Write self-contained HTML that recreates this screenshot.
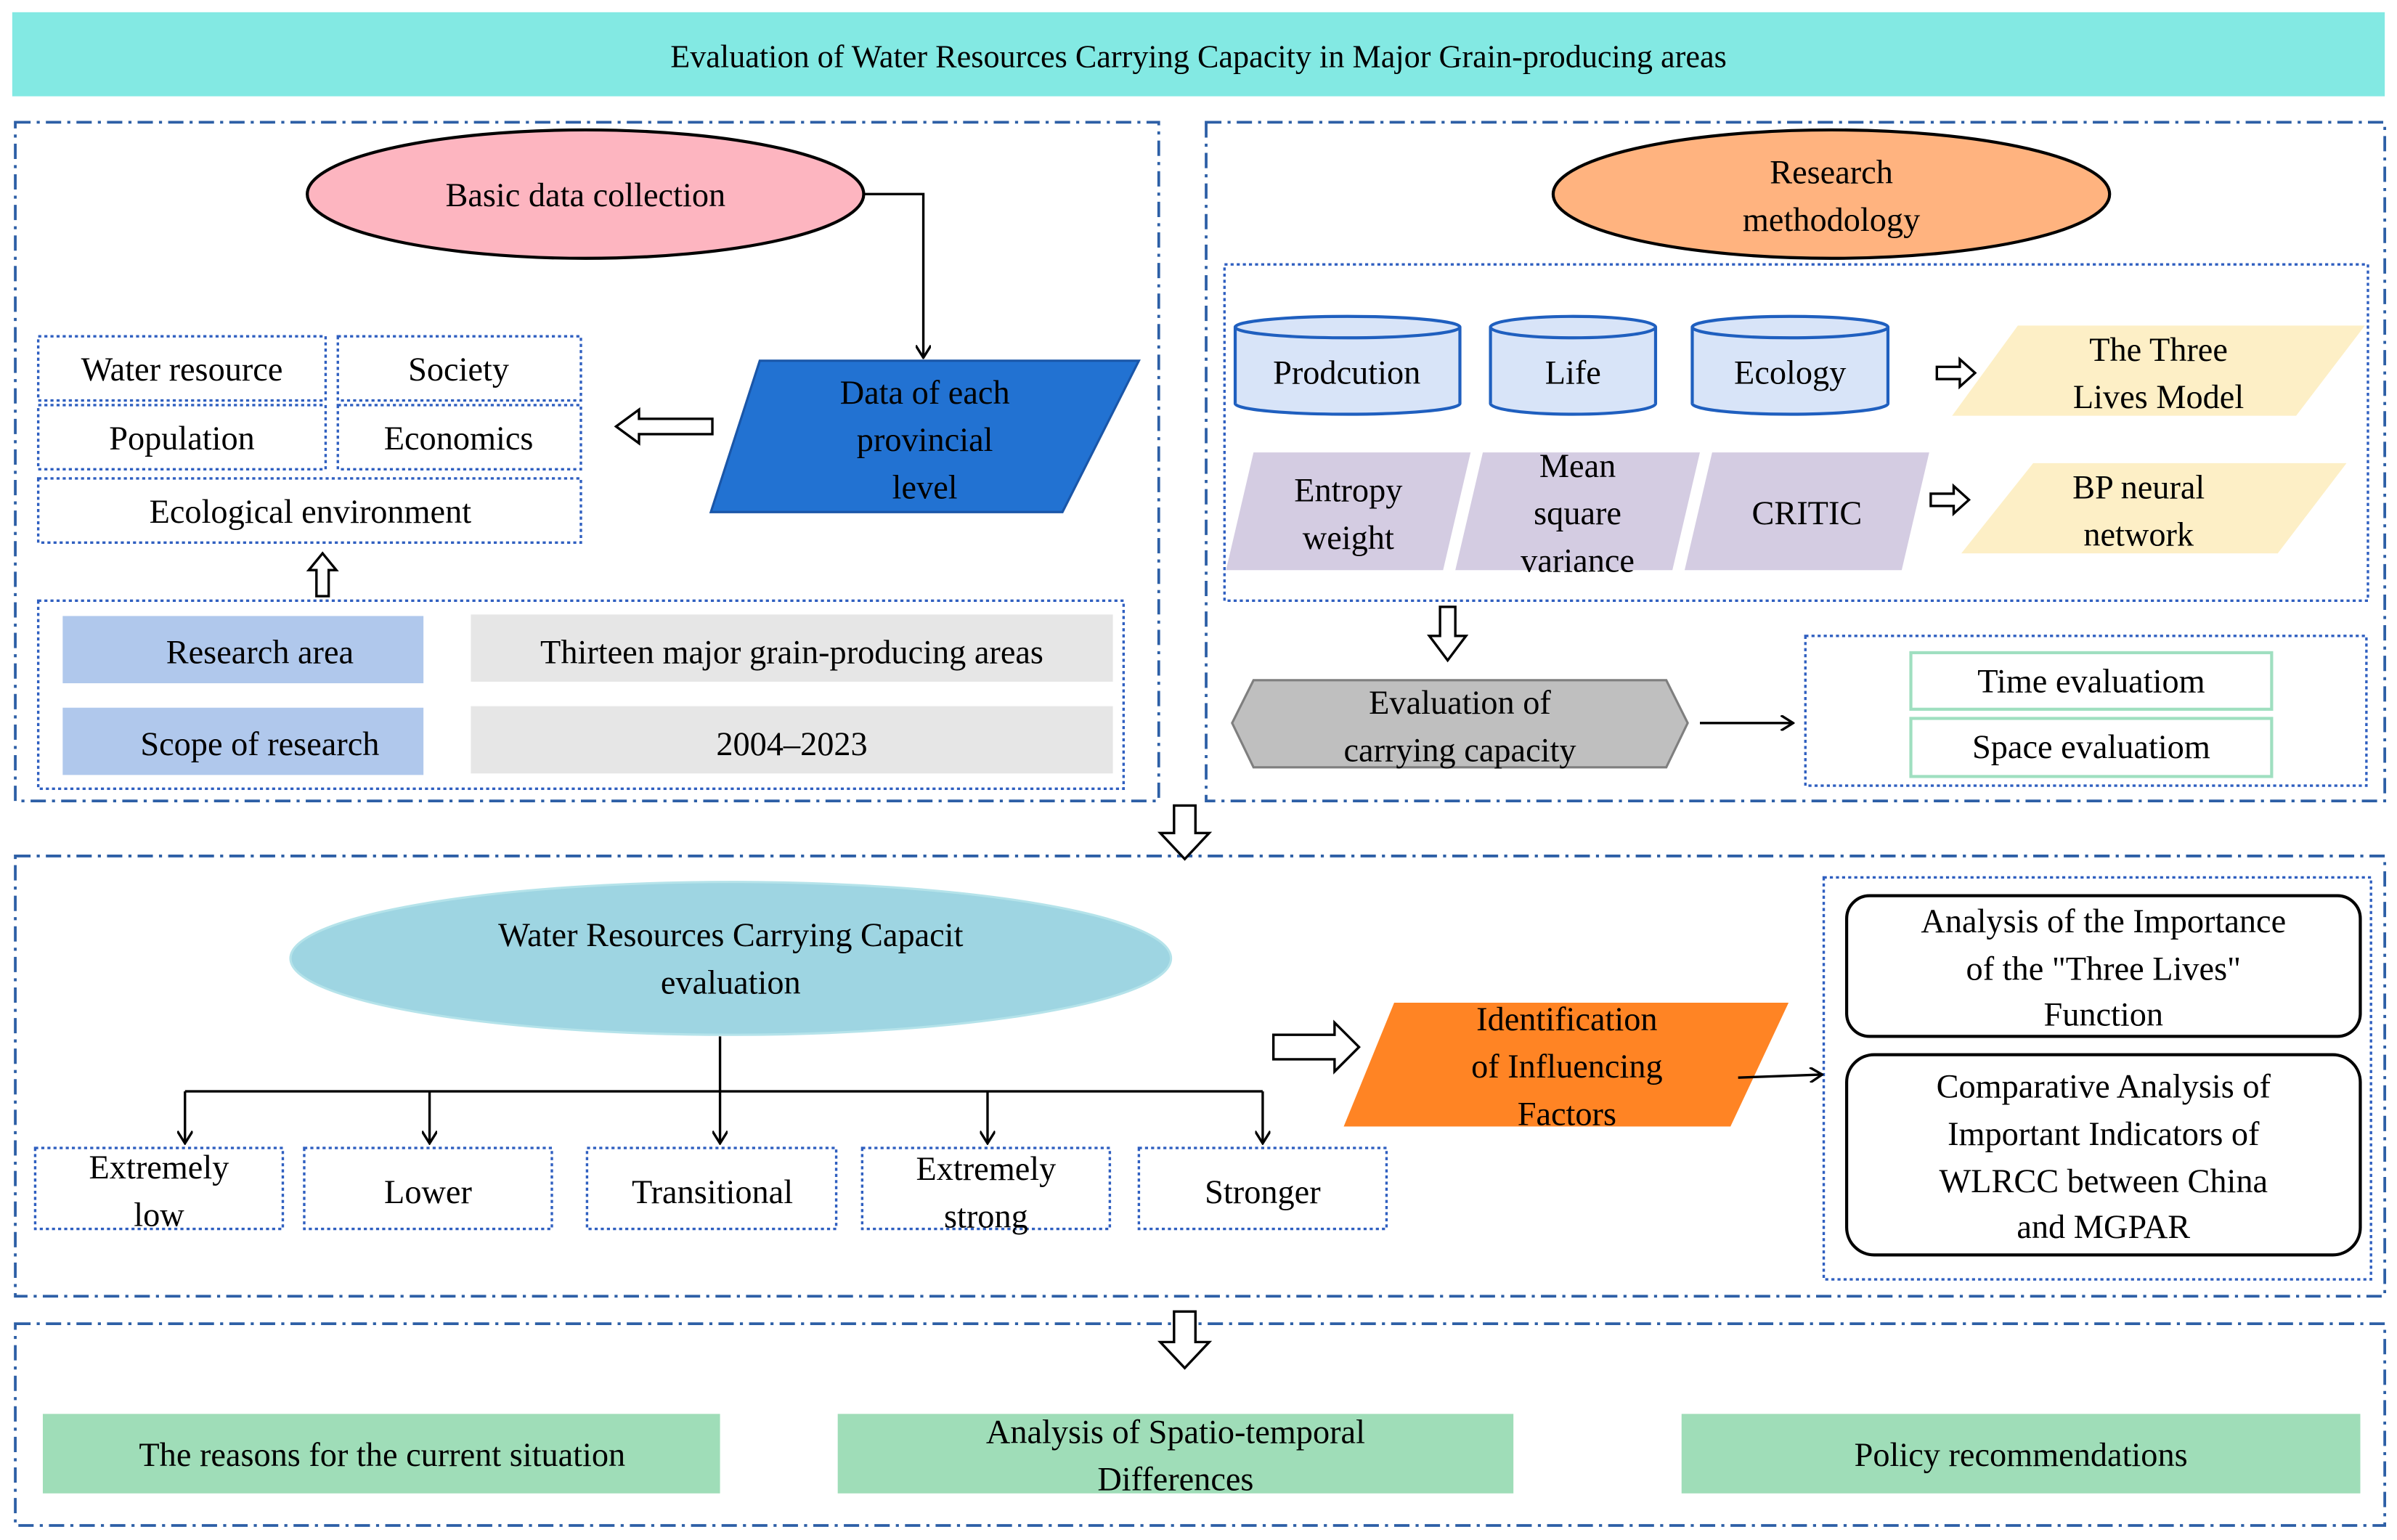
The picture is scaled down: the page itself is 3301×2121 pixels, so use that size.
<!DOCTYPE html>
<html><head><meta charset="utf-8"><style>html,body{margin:0;padding:0;background:#fff}svg{display:block}svg text{font-family:"Liberation Serif","Times New Roman",serif}</style></head><body>
<svg width="3301" height="2121" viewBox="0 0 1568 1007.5" xmlns="http://www.w3.org/2000/svg" style="font-family:'Liberation Serif',serif" font-size="22" text-anchor="middle">
<defs>
<marker id="ah" markerWidth="10" markerHeight="10" refX="9" refY="5" orient="auto" markerUnits="userSpaceOnUse"><path d="M1,0 L9,5 L1,10" fill="none" stroke="#000" stroke-width="1.6"/></marker>
</defs>
<rect x="0" y="0" width="1568" height="1008" fill="#fff"/>
<rect x="8" y="8" width="1552" height="55" fill="#83E9E3"/>
<text x="784" y="44" font-size="21">Evaluation of Water Resources Carrying Capacity in Major Grain-producing areas</text>
<g fill="none" stroke="#2D5FA6" stroke-width="1.8" stroke-dasharray="10,4,2,4">
<rect x="10" y="80" width="748" height="444"/>
<rect x="789" y="80" width="771" height="444"/>
<rect x="10" y="560" width="1550" height="288"/>
<rect x="10" y="866" width="1550" height="132"/>
</g>
<!-- LEFT -->
<ellipse cx="383" cy="127" rx="182" ry="42" fill="#FDB5C0" stroke="#000" stroke-width="2"/>
<text x="383" y="135">Basic data collection</text>
<path d="M565,127 H604 V234" fill="none" stroke="#000" stroke-width="1.6" marker-end="url(#ah)"/>
<polygon points="497,236 745,236 695,335 465,335" fill="#2272D2" stroke="#1A56A8" stroke-width="1.5"/>
<text x="605" y="264">Data of each</text><text x="605" y="295">provincial</text><text x="605" y="326">level</text>
<g fill="none" stroke="#2F5FC0" stroke-width="1.6" stroke-dasharray="2,2">
<rect x="25" y="220" width="188" height="42"/><rect x="221" y="220" width="159" height="42"/>
<rect x="25" y="265" width="188" height="42"/><rect x="221" y="265" width="159" height="42"/>
<rect x="25" y="313" width="355" height="42"/>
<rect x="25" y="393" width="710" height="123"/>
</g>
<text x="119" y="249">Water resource</text><text x="300" y="249">Society</text>
<text x="119" y="294">Population</text><text x="300" y="294">Economics</text>
<text x="203" y="342">Ecological environment</text>
<polygon points="403,279 418,268 418,274 466,274 466,284 418,284 418,290" fill="#fff" stroke="#000" stroke-width="1.6"/>
<polygon points="211,362 220,373 215,373 215,390 207,390 207,373 202,373" fill="#fff" stroke="#000" stroke-width="1.6"/>
<rect x="41" y="403" width="236" height="44" fill="#B0C8EC"/>
<rect x="308" y="402" width="420" height="44" fill="#E6E6E6"/>
<rect x="41" y="463" width="236" height="44" fill="#B0C8EC"/>
<rect x="308" y="462" width="420" height="44" fill="#E6E6E6"/>
<text x="170" y="434">Research area</text><text x="518" y="434">Thirteen major grain-producing areas</text>
<text x="170" y="494">Scope of research</text><text x="518" y="494">2004–2023</text>
<!-- RIGHT -->
<ellipse cx="1198" cy="127" rx="182" ry="42" fill="#FFB37F" stroke="#000" stroke-width="2"/>
<text x="1198" y="120">Research</text><text x="1198" y="151">methodology</text>
<rect x="801" y="173" width="748" height="220" fill="none" stroke="#2F5FC0" stroke-width="1.6" stroke-dasharray="2,2"/>
<g stroke="#1F5FBF" stroke-width="2">
<ellipse cx="881.5" cy="264" rx="73.5" ry="7" fill="#D8E4F8"/>
<rect x="808" y="214" width="147" height="50" fill="#D8E4F8" stroke="none"/>
<line x1="808" y1="214" x2="808" y2="264"/><line x1="955" y1="214" x2="955" y2="264"/>
<ellipse cx="881.5" cy="214" rx="73.5" ry="7" fill="#D8E4F8"/>
<ellipse cx="1029" cy="264" rx="54" ry="7" fill="#D8E4F8"/>
<rect x="975" y="214" width="108" height="50" fill="#D8E4F8" stroke="none"/>
<line x1="975" y1="214" x2="975" y2="264"/><line x1="1083" y1="214" x2="1083" y2="264"/>
<ellipse cx="1029" cy="214" rx="54" ry="7" fill="#D8E4F8"/>
<ellipse cx="1171" cy="264" rx="64" ry="7" fill="#D8E4F8"/>
<rect x="1107" y="214" width="128" height="50" fill="#D8E4F8" stroke="none"/>
<line x1="1107" y1="214" x2="1107" y2="264"/><line x1="1235" y1="214" x2="1235" y2="264"/>
<ellipse cx="1171" cy="214" rx="64" ry="7" fill="#D8E4F8"/>
</g>
<text x="881" y="251">Prodcution</text><text x="1029" y="251">Life</text><text x="1171" y="251">Ecology</text>
<polygon points="1292,244 1282,235 1282,240 1267,240 1267,248 1282,248 1282,253" fill="#fff" stroke="#000" stroke-width="1.6"/>
<polygon points="1320,213 1547,213 1502,272 1277,272" fill="#FDEFC6"/>
<text x="1412" y="236">The Three</text><text x="1412" y="267">Lives Model</text>
<polygon points="820,296 962,296 944,373 802,373" fill="#D4CCE2"/>
<polygon points="970,296 1112,296 1094,373 952,373" fill="#D4CCE2"/>
<polygon points="1120,296 1262,296 1244,373 1102,373" fill="#D4CCE2"/>
<text x="882" y="328">Entropy</text><text x="882" y="359">weight</text>
<text x="1032" y="312">Mean</text><text x="1032" y="343">square</text><text x="1032" y="374">variance</text>
<text x="1182" y="343">CRITIC</text>
<polygon points="1288,327 1278,318 1278,323 1263,323 1263,331 1278,331 1278,336" fill="#fff" stroke="#000" stroke-width="1.6"/>
<polygon points="1330,303 1535,303 1490,362 1283,362" fill="#FDEFC6"/>
<text x="1399" y="326">BP neural</text><text x="1399" y="357">network</text>
<polygon points="947,432 935,416 942,416 942,397 952,397 952,416 959,416" fill="#fff" stroke="#000" stroke-width="1.6"/>
<polygon points="820,445 1090,445 1104,473 1090,502 820,502 806,473" fill="#BFBFBF" stroke="#7F7F7F" stroke-width="1.5"/>
<text x="955" y="467">Evaluation of</text><text x="955" y="498">carrying capacity</text>
<line x1="1112" y1="473" x2="1173" y2="473" stroke="#000" stroke-width="1.6" marker-end="url(#ah)"/>
<rect x="1181" y="416" width="367" height="98" fill="none" stroke="#2F5FC0" stroke-width="1.6" stroke-dasharray="2,2"/>
<rect x="1250" y="427" width="236" height="37" fill="#fff" stroke="#9FDFC0" stroke-width="2"/>
<rect x="1250" y="470" width="236" height="38" fill="#fff" stroke="#9FDFC0" stroke-width="2"/>
<text x="1368" y="453">Time evaluatiom</text><text x="1368" y="496">Space evaluatiom</text>
<polygon points="775,562 759,545 768,545 768,527 782,527 782,545 791,545" fill="#fff" stroke="#000" stroke-width="1.6"/>
<!-- MIDDLE -->
<ellipse cx="478" cy="627" rx="288" ry="50" fill="#9ED5E2" stroke="#B5E3EA" stroke-width="1.5"/>
<text x="478" y="619">Water Resources Carrying Capacit</text><text x="478" y="650">evaluation</text>
<g fill="none" stroke="#000" stroke-width="1.6">
<line x1="471" y1="678" x2="471" y2="748" marker-end="url(#ah)"/>
<line x1="121" y1="714" x2="826" y2="714"/>
<line x1="121" y1="714" x2="121" y2="748" marker-end="url(#ah)"/>
<line x1="281" y1="714" x2="281" y2="748" marker-end="url(#ah)"/>
<line x1="646" y1="714" x2="646" y2="748" marker-end="url(#ah)"/>
<line x1="826" y1="714" x2="826" y2="748" marker-end="url(#ah)"/>
</g>
<g fill="none" stroke="#2F5FC0" stroke-width="1.6" stroke-dasharray="2,2">
<rect x="23" y="751" width="162" height="53"/><rect x="199" y="751" width="162" height="53"/>
<rect x="384" y="751" width="163" height="53"/><rect x="564" y="751" width="162" height="53"/>
<rect x="745" y="751" width="162" height="53"/>
<rect x="1193" y="574" width="358" height="263"/>
</g>
<text x="104" y="771">Extremely</text><text x="104" y="802">low</text>
<text x="280" y="787">Lower</text><text x="466" y="787">Transitional</text>
<text x="645" y="772">Extremely</text><text x="645" y="803">strong</text>
<text x="826" y="787">Stronger</text>
<polygon points="889,685 873,669 873,677 833,677 833,693 873,693 873,701" fill="#fff" stroke="#000" stroke-width="1.6"/>
<polygon points="912,656 1170,656 1132,737 879,737" fill="#FF8424"/>
<text x="1025" y="674">Identification</text><text x="1025" y="705">of Influencing</text><text x="1025" y="736">Factors</text>
<line x1="1137" y1="705" x2="1192" y2="703" stroke="#000" stroke-width="1.6" marker-end="url(#ah)"/>
<rect x="1208" y="586" width="336" height="92" rx="15" fill="#fff" stroke="#000" stroke-width="2"/>
<rect x="1208" y="690" width="336" height="131" rx="18" fill="#fff" stroke="#000" stroke-width="2"/>
<text x="1376" y="610">Analysis of the Importance</text><text x="1376" y="641">of the "Three Lives"</text><text x="1376" y="671">Function</text>
<text x="1376" y="718">Comparative Analysis of</text><text x="1376" y="749">Important Indicators of</text><text x="1376" y="780">WLRCC between China</text><text x="1376" y="810">and MGPAR</text>
<polygon points="775,895 759,878 768,878 768,858 782,858 782,878 791,878" fill="#fff" stroke="#000" stroke-width="1.6"/>
<!-- BOTTOM -->
<rect x="28" y="925" width="443" height="52" fill="#9FDDB8"/>
<rect x="548" y="925" width="442" height="52" fill="#9FDDB8"/>
<rect x="1100" y="925" width="444" height="52" fill="#9FDDB8"/>
<text x="250" y="959">The reasons for the current situation</text>
<text x="769" y="944">Analysis of Spatio-temporal</text><text x="769" y="975">Differences</text>
<text x="1322" y="959">Policy recommendations</text>
</svg>
</body></html>
